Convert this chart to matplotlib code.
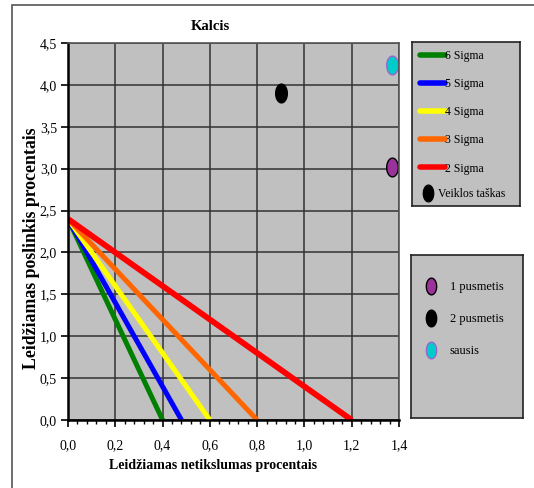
import numpy as np
import matplotlib
matplotlib.use("Agg")
import matplotlib.pyplot as plt
from matplotlib.lines import Line2D
from matplotlib.path import Path
from matplotlib.ticker import FuncFormatter, MultipleLocator
from matplotlib.patches import Rectangle

# ---- data ----
sigma_labels = ["6 Sigma", "5 Sigma", "4 Sigma", "3 Sigma", "2 Sigma"]
sigma_colors = ["#008000", "#0000FF", "#FFFF00", "#FF6600", "#FF0000"]
line_x_start = [0.0, 0.0, 0.0, 0.0, 0.0]
line_y_start = [2.4, 2.4, 2.4, 2.4, 2.4]
line_x_end = [0.4, 0.48, 0.6, 0.8, 1.2]
line_y_end = [0.0, 0.0, 0.0, 0.0, 0.0]

point_labels = ["1 pusmetis", "2 pusmetis", "sausis"]
point_x = [1.37, 0.9, 1.37]
point_y = [3.02, 3.9, 4.24]
point_colors = ["#993399", "#000000", "#00CCCC"]
point_edges = ["#000000", "#000000", "#9966CC"]

x_ticks = [0.0, 0.2, 0.4, 0.6, 0.8, 1.0, 1.2, 1.4]
y_ticks = [0.0, 0.5, 1.0, 1.5, 2.0, 2.5, 3.0, 3.5, 4.0, 4.5]

title = "Kalcis"
xlabel = "Leidžiamas netikslumas procentais"
ylabel = "Leidžiamas poslinkis procentais"
marker_label = "Veiklos taškas"

plt.rcParams['font.family'] = ['Liberation Serif', 'DejaVu Serif']

W, H = 534, 488
fig = plt.figure(figsize=(W / 100, H / 100), dpi=100)
fig.patch.set_facecolor('white')

# outer frame
fig.patches.append(Rectangle((12 / W, -0.1), 1.2, 1 - 5 / H + 0.1, transform=fig.transFigure,
                             fill=False, edgecolor='#555555', lw=1.2))

def fx(px):
    return px / W

def fy(py):
    return 1 - py / H

ax = fig.add_axes([fx(68), fy(420), (399 - 68) / W, (420 - 43) / H])
ax.set_facecolor('#C0C0C0')
ax.set_xlim(0, 1.4)
ax.set_ylim(0, 4.5)
ax.set_xticks(x_ticks)
ax.set_yticks(y_ticks)
ax.xaxis.set_minor_locator(MultipleLocator(0.04))
fmt = FuncFormatter(lambda v, p: f"{v:.1f}".replace('.', ','))
ax.xaxis.set_major_formatter(fmt)
ax.yaxis.set_major_formatter(fmt)
ax.grid(True, which='major', color='#333333', lw=1.1)
ax.set_axisbelow(True)
for s in ['top', 'right']:
    ax.spines[s].set_color('#555555')
    ax.spines[s].set_linewidth(1.2)
for s in ['left', 'bottom']:
    ax.spines[s].set_color('black')
    ax.spines[s].set_linewidth(1.8)
ax.tick_params(axis='both', which='major', direction='out', length=5, width=1.2,
               labelsize=10)
ax.tick_params(axis='x', pad=9)
ax.tick_params(axis='y', pad=3)
ax.tick_params(axis='x', which='minor', direction='out', length=3, width=1)

theta = np.linspace(0, 2 * np.pi, 60)
ell = Path(np.column_stack([0.62 * np.cos(theta), np.sin(theta)]), closed=True)

handles1 = []
for xs, ys, xe, ye, c, lab in zip(line_x_start, line_y_start, line_x_end, line_y_end,
                                   sigma_colors, sigma_labels):
    ax.plot([xs, xe], [ys, ye], color=c, lw=3.6 if lab != "2 Sigma" else 4.2,
            solid_capstyle='butt', label=lab)
    handles1.append(Line2D([], [], color=c, lw=4, solid_capstyle='round'))

handles2 = []
for x, y, c, e, lab in zip(point_x, point_y, point_colors, point_edges, point_labels):
    ax.plot([x], [y], ls='none', marker=ell, markersize=13.5, markerfacecolor=c,
            markeredgecolor=e, markeredgewidth=1, clip_on=False, label=lab)
    handles2.append(Line2D([], [], ls='none', marker=ell, markersize=12, markerfacecolor=c,
                           markeredgecolor=e, markeredgewidth=1))

marker_handle = Line2D([], [], ls='none', marker=ell, markersize=12,
                       markerfacecolor='black', markeredgecolor='black')

# legend boxes
lax1 = fig.add_axes([fx(412), fy(206), (520 - 412) / W, (206 - 42) / H])
lax2 = fig.add_axes([fx(411), fy(418), (523 - 411) / W, (418 - 255) / H])
for la in (lax1, lax2):
    la.set_facecolor('#C0C0C0')
    la.set_xticks([])
    la.set_yticks([])
    for s in la.spines.values():
        s.set_color('#222222')
        s.set_linewidth(1.2)

leg_a = lax1.legend(handles1, sigma_labels, loc='upper left', bbox_to_anchor=(0.074, 0.952),
                    frameon=False, fontsize=8.5, handlelength=2.1, handletextpad=0.05,
                    labelspacing=1.37, borderaxespad=0, borderpad=0)
lax1.add_artist(leg_a)
lax1.legend([marker_handle], [marker_label], loc='upper left', bbox_to_anchor=(0.093, 0.11),
            frameon=False, fontsize=8.5, handlelength=1.0, handletextpad=0.35,
            borderaxespad=0, borderpad=0)
lax2.legend(handles2, point_labels, loc='upper left', bbox_to_anchor=(10 / 112, 0.838),
            frameon=False, fontsize=9, handlelength=1.6, handletextpad=0.72, labelspacing=1.6,
            borderaxespad=0, borderpad=0)

fig.text(fx(210), fy(27), title, ha='center', va='center', fontsize=10.5, fontweight='bold')
fig.text(fx(213), fy(466), xlabel, ha='center', va='center', fontsize=10, fontweight='bold')
fig.text(fx(32), fy(248), ylabel, ha='center', va='center', rotation=90, fontsize=12.8,
         fontweight='bold')

fig.savefig('out.png', dpi=100)
